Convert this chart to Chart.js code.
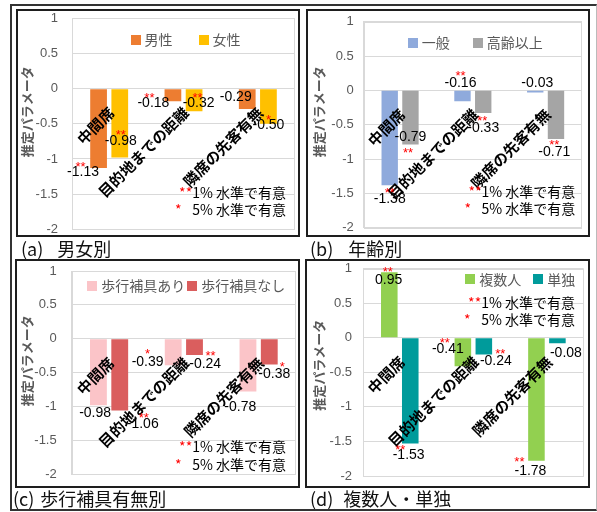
<!DOCTYPE html>
<html lang="ja">
<head>
<meta charset="utf-8">
<title>推定パラメータ</title>
<script src="https://cdn.jsdelivr.net/npm/chart.js"></script>
<style>
  body { margin: 0; background: #fff; }
  #fig { position: relative; width: 597px; height: 512px; overflow: hidden; font-family: "Noto Sans CJK JP", sans-serif; }
  .frame { position: absolute; left: 10px; top: 4px; width: 587px; height: 507px; box-sizing: border-box;
           border-left: 2px solid #333; border-top: 2px solid #333; border-right: 1px solid #bbb; border-bottom: 2px solid #333; }
  .panel { position: absolute; border: 2px solid #1e1e1e; box-sizing: border-box; pointer-events: none; }
  canvas { position: absolute; }
  .cap { position: absolute; font-size: 18px; line-height: 20px; color: #111; white-space: nowrap; }
</style>
</head>
<body>
<div id="fig"><div class="frame"></div></div>

<script>
// カテゴリ
const categories = ['中間席', '目的地までの距離', '隣席の先客有無'];

// (a) 男女別
const sexNames = ['男性', '女性'];
const sexMale = [-1.13, -0.18, -0.29];
const sexFemale = [-0.98, -0.32, -0.50];
const sexMaleSig = ['**', '**', ''];
const sexFemaleSig = ['**', '**', '*'];

// (b) 年齢別
const ageNames = ['一般', '高齢以上'];
const ageGeneral = [-1.38, -0.16, -0.03];
const ageElderly = [-0.79, -0.33, -0.71];
const ageGeneralSig = ['**', '**', ''];
const ageElderlySig = ['**', '**', '**'];

// (c) 歩行補具有無別
const aidNames = ['歩行補具あり', '歩行補具なし'];
const aidWith = [-0.98, -0.39, -0.78];
const aidWithout = [-1.06, -0.24, -0.38];
const aidWithSig = ['', '*', ''];
const aidWithoutSig = ['**', '**', '*'];

// (d) 複数人・単独
const grpNames = ['複数人', '単独'];
const grpMulti = [0.95, -0.41, -1.78];
const grpSingle = [-1.53, -0.24, -0.08];
const grpMultiSig = ['**', '**', '**'];
const grpSingleSig = ['**', '**', ''];

// 軸
const yMin = -2, yMax = 1, yStep = 0.5;
const yTitle = '推定パラメータ';
const note1 = '1% 水準で有意';
const note2 = '5% 水準で有意';

// パネルごとの配置
const panels = [
  { tag: '(a)', cap: '男女別', capPos: [21, 238, 14],
    box: [16, 9, 284, 228], plot: [56, 9.3, 5, 7.7], tickPad: 14, titleX: 11, titleDy: -12,
    names: sexNames, values: [sexMale, sexFemale], sig: [sexMaleSig, sexFemaleSig],
    colors: ['#ED7D31', '#FFC000'],
    legend: { align: 'center', dx: 2, y: 21.7, gap: 26 },
    note: { right: 9, y: [174.4, 191] },
    lbl: [[[-15.5, 4.5], [-19.5, 2.3], [-11.5, -11.4]], [[1, -16], [4.5, -7.5], [0, 1]]],
    ast: [[[-2.5, -9], [-4, -9], [0, -9]], [[0, -10], [-1, -9], [0, -8]]] },
  { tag: '(b)', cap: '年齢別', capPos: [310, 238, 15],
    box: [306, 9, 284, 228], plot: [57.7, 12.7, 8, 9.3], tickPad: 10, titleX: 12.7, titleDy: -13,
    names: ageNames, values: [ageGeneral, ageElderly], sig: [ageGeneralSig, ageElderlySig],
    colors: ['#8FAADC', '#A5A5A5'],
    legend: { align: 'center', dx: 2.5, y: 21, gap: 23 },
    note: { right: 6.7, y: [170, 186.6] },
    lbl: [[[0, 14], [-2, -18.4], [2, -9.5]], [[0, -7.7], [0, 15], [-1.7, 12.8]]],
    ast: [[[0, -10], [0, -10], [0, -10]], [[-2.5, 13], [-1, -11], [0, -10]]] },
  { tag: '(c)', cap: '歩行補具有無別', capPos: [13, 488, 6],
    box: [15, 259, 285, 229], plot: [56.7, 12, 4, 13.7], tickPad: 15, titleX: 12, titleDy: -12,
    names: aidNames, values: [aidWith, aidWithout], sig: [aidWithSig, aidWithoutSig],
    colors: ['#FBC4C8', '#DA5E5E'],
    legend: { align: 'center', dx: 2.3, y: 15, gap: 2 },
    note: { right: 10, y: [175.7, 193.3] },
    lbl: [[[-3.3, 7.5], [-25.6, -3.2], [-7.7, 16]], [[23, 13.6], [10.7, 9.2], [5, 9.7]]],
    ast: [[[0, -10], [0, -11], [0, -10]], [[1, -10], [5.3, -11.6], [8, -11]]] },
  { tag: '(d)', cap: '複数人・単独', capPos: [310, 488, 10],
    box: [305, 259, 285, 229], plot: [58, 9.7, 6.3, 12], tickPad: 11, titleX: 13.7, titleDy: -7,
    names: grpNames, values: [grpMulti, grpSingle], sig: [grpMultiSig, grpSingleSig],
    colors: ['#92D050', '#009B9B'],
    legend: { align: 'right', dx: -8.4, y: 10.6, gap: 12 },
    note: { right: 8.7, y: [34, 50.6] },
    lbl: [[[-0.6, 7.8], [-15, -16.8], [-6, 10.2]], [[-1.6, 11.8], [12, 6.6], [8.5, 9.4]]],
    ast: [[[-1, -11.3], [-3, -10], [-11, -12.3]], [[-8.4, -9.3], [4.5, -10], [0, -10]]] }
];

const JP = '"Noto Sans CJK JP", sans-serif';
const NUM = '"Liberation Sans", Arial, sans-serif';

function figPlugin(p) {
  return {
    id: 'fig',
    beforeDatasetsDraw(chart) {
      const ctx = chart.ctx, a = chart.chartArea;
      ctx.save();
      ctx.strokeStyle = '#d9d9d9';
      ctx.lineWidth = 1;
      ctx.strokeRect(Math.round(a.left) + 0.5, Math.round(a.top) + 0.5, Math.round(a.width) - 1, Math.round(a.height));
      ctx.restore();
    },
    afterDatasetsDraw(chart) {
      const ctx = chart.ctx, a = chart.chartArea;
      const xs = chart.scales.x, ys = chart.scales.y;
      const y0 = ys.getPixelForValue(0);
      ctx.save();

      // 縦軸タイトル
      ctx.fillStyle = '#595959';
      ctx.font = 'bold 13px ' + JP;
      ctx.textAlign = 'center';
      ctx.textBaseline = 'middle';
      ctx.translate(p.titleX, (a.top + a.bottom) / 2 + p.titleDy);
      ctx.rotate(-Math.PI / 2);
      ctx.fillText(yTitle, 0, 0);
      ctx.setTransform(1, 0, 0, 1, 0, 0);

      // 項目名 (斜め)
      ctx.fillStyle = '#000';
      ctx.font = 'bold 15px ' + JP;
      ctx.textAlign = 'right';
      ctx.textBaseline = 'top';
      categories.forEach((c, i) => {
        ctx.save();
        ctx.translate(xs.getPixelForValue(i) - 3, y0 + 16);
        ctx.rotate(-Math.PI / 4);
        ctx.fillText(c, 0, 0);
        ctx.restore();
      });

      // 値ラベルと有意水準
      chart.data.datasets.forEach((ds, di) => {
        chart.getDatasetMeta(di).data.forEach((bar, j) => {
          const lx = bar.x + p.lbl[di][j][0], ly = bar.y + p.lbl[di][j][1];
          ctx.font = '14px ' + NUM;
          ctx.fillStyle = '#000';
          ctx.textAlign = 'center';
          ctx.textBaseline = 'middle';
          ctx.fillText(ds.data[j].toFixed(2), lx, ly);
          const s = p.sig[di][j];
          if (s) {
            ctx.font = '13px ' + NUM;
            ctx.fillStyle = '#FF0000';
            ctx.textBaseline = 'alphabetic';
            ctx.fillText(s, lx + p.ast[di][j][0], ly + p.ast[di][j][1] + 7.5);
          }
        });
      });

      // 凡例
      ctx.font = '14px ' + JP;
      ctx.textBaseline = 'middle';
      ctx.textAlign = 'left';
      const items = chart.data.datasets.map(ds => ({ t: ds.label, c: ds.backgroundColor, w: 14 + ctx.measureText(ds.label).width }));
      const total = items.reduce((s, it) => s + it.w, 0) + p.legend.gap * (items.length - 1);
      let lx = p.legend.align === 'center' ? (a.left + a.right) / 2 + p.legend.dx - total / 2 : a.right + p.legend.dx - total;
      const ly = a.top + p.legend.y;
      items.forEach(it => {
        ctx.fillStyle = it.c;
        ctx.fillRect(Math.round(lx), Math.round(ly - 5), 10, 10);
        ctx.fillStyle = '#595959';
        ctx.fillText(it.t, lx + 14, ly);
        lx += it.w + p.legend.gap;
      });

      // 有意水準の注記
      ctx.textAlign = 'right';
      const rx = a.right - p.note.right;
      ctx.fillStyle = '#000';
      ctx.fillText(note1, rx, a.top + p.note.y[0]);
      ctx.fillText(note2, rx, a.top + p.note.y[1]);
      const w1 = ctx.measureText(note1).width;
      const w2 = ctx.measureText(note2).width;
      ctx.fillStyle = '#FF0000';
      ctx.fillText('**', rx - w1, a.top + p.note.y[0]);
      const starW = ctx.measureText('*').width;
      ctx.fillText('*', rx - w2 - starW - 4, a.top + p.note.y[1]);

      ctx.restore();
    }
  };
}

const fig = document.getElementById('fig');

panels.forEach(p => {
  const [bx, by, bw, bh] = p.box;
  const cv = document.createElement('canvas');
  cv.width = bw; cv.height = bh;
  cv.style.left = bx + 'px'; cv.style.top = by + 'px';
  cv.style.width = bw + 'px'; cv.style.height = bh + 'px';
  fig.appendChild(cv);

  const border = document.createElement('div');
  border.className = 'panel';
  border.style.left = bx + 'px'; border.style.top = by + 'px';
  border.style.width = bw + 'px'; border.style.height = bh + 'px';
  fig.appendChild(border);

  const cap = document.createElement('div');
  cap.className = 'cap';
  cap.style.left = p.capPos[0] + 'px';
  cap.style.top = p.capPos[1] + 'px';
  cap.innerHTML = p.tag + '<span style="margin-left:' + p.capPos[2] + 'px">' + p.cap + '</span>';
  fig.appendChild(cap);

  new Chart(cv, {
    type: 'bar',
    data: {
      labels: categories,
      datasets: p.names.map((n, i) => ({
        label: n,
        data: p.values[i],
        backgroundColor: p.colors[i],
        categoryPercentage: 0.57,
        barPercentage: 0.79
      }))
    },
    options: {
      responsive: false,
      animation: false,
      devicePixelRatio: 1,
      layout: { padding: { top: p.plot[1], right: p.plot[2], bottom: p.plot[3], left: 0 } },
      plugins: { legend: { display: false }, tooltip: { enabled: false } },
      scales: {
        x: { display: false },
        y: {
          min: yMin, max: yMax,
          ticks: {
            stepSize: yStep, padding: 0, color: '#595959',
            font: { size: 13, family: NUM, lineHeight: 1 },
            callback: v => String(v)
          },
          grid: { color: '#d9d9d9', drawTicks: true, tickLength: p.tickPad, tickColor: 'rgba(0,0,0,0)' },
          border: { display: true, color: '#d9d9d9' },
          afterFit: s => { s.width = p.plot[0]; }
        }
      }
    },
    plugins: [figPlugin(p)]
  });
});
</script>
</body>
</html>
